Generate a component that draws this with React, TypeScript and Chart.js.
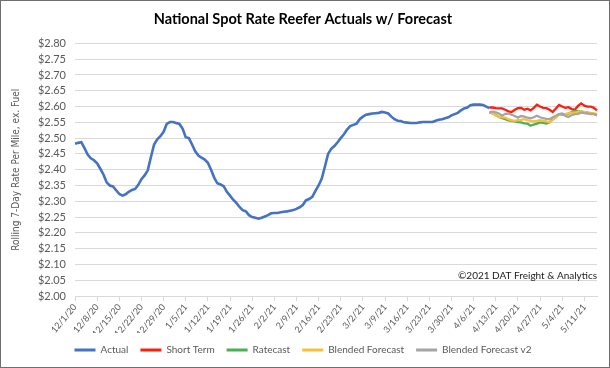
import React, { useEffect, useRef } from "react";
import { Chart, registerables } from "chart.js";

Chart.register(...registerables);

const FONT = "Lato, 'Noto Sans', sans-serif";
const NARROW = "'Liberation Sans Narrow', 'DejaVu Sans Condensed', Lato, sans-serif";
const TITLE = "National Spot Rate Reefer Actuals w/ Forecast";
const Y_TITLE = "Rolling 7-Day Rate Per Mile, ex. Fuel";
const CREDIT = "©2021 DAT Freight & Analytics";

// Daily categories 12/1/20 .. 5/15/21
const FIRST_DAY = [2020, 11, 1];
const DAY_COUNT = 166;

// Weekly tick labels shown on the axis
const tickLabels = [
  "12/1/20", "12/8/20", "12/15/20", "12/22/20", "12/29/20", "1/5/21", "1/12/21", "1/19/21",
  "1/26/21", "2/2/21", "2/9/21", "2/16/21", "2/23/21", "3/2/21", "3/9/21", "3/16/21",
  "3/23/21", "3/30/21", "4/6/21", "4/13/21", "4/20/21", "4/27/21", "5/4/21", "5/11/21",
];

const yTicks = { min: 2.0, max: 2.8, step: 0.05 };

// Actual rolling 7-day rate (12/1/20 .. 4/11/21)
const actual = [
  2.482, 2.485, 2.487, 2.468, 2.448, 2.436, 2.430, 2.420, 2.403, 2.385,
  2.360, 2.350, 2.347, 2.335, 2.323, 2.318, 2.322, 2.330, 2.336, 2.339,
  2.352, 2.370, 2.382, 2.398, 2.440, 2.480, 2.496, 2.506, 2.520, 2.545,
  2.551, 2.551, 2.548, 2.545, 2.530, 2.503, 2.500, 2.480, 2.458, 2.445,
  2.438, 2.432, 2.422, 2.400, 2.375, 2.357, 2.353, 2.348, 2.330, 2.318,
  2.305, 2.295, 2.282, 2.272, 2.268, 2.256, 2.250, 2.248, 2.245, 2.248,
  2.252, 2.256, 2.262, 2.263, 2.263, 2.265, 2.267, 2.268, 2.270, 2.272,
  2.276, 2.281, 2.288, 2.303, 2.307, 2.314, 2.333, 2.350, 2.372, 2.410,
  2.450, 2.466, 2.475, 2.487, 2.500, 2.512, 2.527, 2.538, 2.542, 2.546,
  2.560, 2.568, 2.574, 2.576, 2.578, 2.579, 2.580, 2.583, 2.581, 2.578,
  2.568, 2.560, 2.555, 2.554, 2.550, 2.549, 2.548, 2.548, 2.548, 2.550,
  2.551, 2.551, 2.551, 2.551, 2.555, 2.558, 2.560, 2.563, 2.566, 2.572,
  2.576, 2.580, 2.588, 2.594, 2.597, 2.604, 2.606, 2.606, 2.606, 2.605,
  2.600, 2.595,
];

// Forecasts start at this day index (4/11/21)
const FORECAST_START = 131;

const shortTerm = [
  2.597, 2.597, 2.595, 2.594, 2.594, 2.590, 2.585, 2.583, 2.590, 2.595,
  2.596, 2.590, 2.593, 2.588, 2.596, 2.606, 2.600, 2.596, 2.595, 2.590,
  2.583, 2.594, 2.605, 2.600, 2.596, 2.598, 2.592, 2.590, 2.602, 2.610,
  2.603, 2.600, 2.600, 2.596, 2.588,
];

const ratecast = [
  2.581, 2.578, 2.574, 2.567, 2.563, 2.560, 2.556, 2.555, 2.553, 2.551,
  2.550, 2.547, 2.546, 2.539, 2.543, 2.546, 2.550, 2.548, 2.546, 2.550,
  2.560, 2.568, 2.576, 2.574, 2.574, 2.577, 2.583, 2.587, 2.585, 2.585,
  2.582, 2.581, 2.579, 2.577, 2.574,
];

const blended = [
  2.582, 2.578, 2.572, 2.567, 2.566, 2.565, 2.560, 2.556, 2.555, 2.557,
  2.558, 2.560, 2.557, 2.555, 2.553, 2.555, 2.557, 2.555, 2.553, 2.550,
  2.558, 2.565, 2.574, 2.575, 2.576, 2.579, 2.581, 2.581, 2.583, 2.585,
  2.583, 2.581, 2.579, 2.578, 2.576,
];

const blendedV2 = [
  2.582, 2.584, 2.582, 2.578, 2.571, 2.577, 2.578, 2.574, 2.570, 2.565,
  2.570, 2.568, 2.565, 2.563, 2.566, 2.571, 2.566, 2.563, 2.561, 2.560,
  2.566, 2.571, 2.576, 2.578, 2.570, 2.567, 2.573, 2.576, 2.577, 2.581,
  2.579, 2.578, 2.576, 2.576, 2.572,
];

function buildCategories(): string[] {
  const out: string[] = [];
  const d = new Date(FIRST_DAY[0], FIRST_DAY[1], FIRST_DAY[2]);
  for (let i = 0; i < DAY_COUNT; i++) {
    out.push(`${d.getMonth() + 1}/${d.getDate()}/${String(d.getFullYear()).slice(2)}`);
    d.setDate(d.getDate() + 1);
  }
  return out;
}

const padForecast = (arr: number[]) => [
  ...new Array(FORECAST_START).fill(null),
  ...arr,
];

const creditPlugin = {
  id: "credit",
  afterDraw(chart: any) {
    const { ctx, chartArea } = chart;
    ctx.save();
    ctx.font = `10px ${FONT}`;
    ctx.fillStyle = "#1a1a1a";
    ctx.textAlign = "right";
    ctx.textBaseline = "middle";
    ctx.fillText(CREDIT, chartArea.right, chartArea.bottom - 20);
    ctx.restore();
  },
};

export default function App() {
  const ref = useRef<HTMLCanvasElement | null>(null);

  useEffect(() => {
    document.body.style.margin = "0";
    const categories = buildCategories();
    const tickSet = new Set(tickLabels);
    const tickColor = "#595959";

    const mk = (label: string, data: any[], color: string, width: number, order: number) => ({
      label,
      data,
      borderColor: color,
      backgroundColor: color,
      borderWidth: width,
      pointRadius: 0,
      tension: 0,
      spanGaps: false,
      order,
    });

    const chart = new Chart(ref.current as HTMLCanvasElement, {
      type: "line",
      data: {
        labels: categories,
        datasets: [
          mk("Actual", actual, "#4472C4", 2.6, 4),
          mk("Short Term", padForecast(shortTerm), "#FF1F0F", 2.3, 3),
          mk("Ratecast", padForecast(ratecast), "#4CAF50", 2.3, 2),
          mk("Blended Forecast", padForecast(blended), "#FBBE3C", 2.3, 1),
          mk("Blended Forecast v2", padForecast(blendedV2), "#A5A5A5", 2.3, 0),
        ],
      },
      options: {
        animation: false,
        responsive: false,
        maintainAspectRatio: false,
        layout: { padding: { left: 8, right: 12, top: 0, bottom: 2 } },
        plugins: {
          title: {
            display: true,
            text: TITLE,
            color: "#000",
            font: { family: FONT, size: 14.5, weight: "bold" },
            padding: { top: 10, bottom: 15 },
          },
          legend: {
            position: "bottom",
            labels: {
              boxWidth: 21,
              boxHeight: 3,
              padding: 12,
              color: tickColor,
              font: { family: FONT, size: 10 },
              sort: (a: any, b: any) => a.datasetIndex - b.datasetIndex,
              generateLabels: (c: any) =>
                (Chart.defaults.plugins.legend.labels as any)
                  .generateLabels(c)
                  .map((l: any) => ({ ...l, lineWidth: 0, fillStyle: l.strokeStyle })),
            },
          },
          tooltip: { enabled: false },
        },
        scales: {
          x: {
            type: "category",
            grid: {
              display: true,
              drawOnChartArea: false,
              drawTicks: true,
              tickLength: 5,
              color: "#d9d9d9",
            },
            border: { color: "#d9d9d9" },
            ticks: {
              autoSkip: false,
              minRotation: 50,
              maxRotation: 50,
              padding: 1,
              color: tickColor,
              font: { family: FONT, size: 9 },
              callback: (_v: any, i: number) => (tickSet.has(categories[i]) ? categories[i] : null),
            },
            afterFit: (s: any) => {
              s.height = 37;
            },
          },
          y: {
            min: yTicks.min,
            max: yTicks.max,
            grid: { color: "#d9d9d9", drawTicks: false },
            border: { display: false },
            ticks: {
              autoSkip: false,
              stepSize: yTicks.step,
              padding: 9,
              color: tickColor,
              font: { family: FONT, size: 11 },
              callback: (v: any) => "$" + Number(v).toFixed(2),
            },
            title: {
              display: true,
              text: Y_TITLE,
              color: tickColor,
              font: { family: NARROW, size: 10 },
              padding: { top: 1, bottom: 0 },
            },
            afterFit: (s: any) => {
              s.width = 66;
            },
          },
        },
      },
      plugins: [creditPlugin],
    } as any);

    return () => chart.destroy();
  }, []);

  return (
    <div
      style={{
        width: 610,
        height: 368,
        boxSizing: "border-box",
        border: "1px solid #6f6f6f",
        background: "#fff",
      }}
    >
      <canvas ref={ref} width={608} height={366} style={{ display: "block" }} />
    </div>
  );
}
